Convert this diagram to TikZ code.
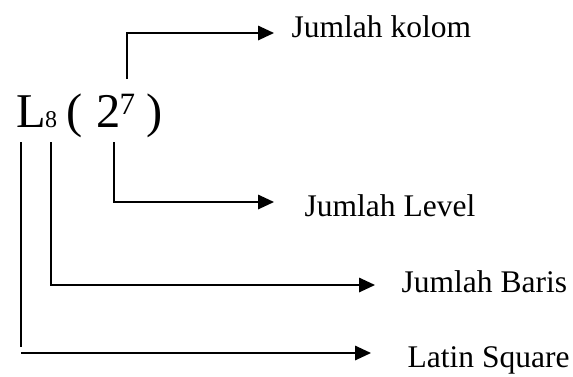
\documentclass[tikz,border=0pt]{standalone}
\usepackage{fontspec}
\setmainfont{Liberation Serif}
\usetikzlibrary{arrows.meta}
\begin{document}
\begin{tikzpicture}[x=1pt,y=-1pt,
  conn/.style={line width=1.7pt,-{Triangle[length=16pt,width=14.5pt]}},
  plain/.style={line width=1.5pt},
  lbl/.style={anchor=base west,inner sep=0pt,font=\fontsize{31.5}{36}\selectfont},
  fml/.style={anchor=base west,inner sep=0pt,font=\fontsize{48.5}{54}\selectfont},
  subf/.style={anchor=base west,inner sep=0pt,font=\fontsize{24}{28}\selectfont},
  supf/.style={anchor=base west,inner sep=0pt,font=\fontsize{31}{34}\selectfont}]
\useasboundingbox (0,0) rectangle (573,376);
% formula
\node[fml]  (L)     at (16,127)  {L};
\node[subf] (eight) at (45,127)  {8};
\node[fml]  (lp)    at (66,127)  {(};
\node[fml]  (two)   at (96,127)  {2};
\node[supf] (seven) at (119.5,114.5) {7};
\node[fml]  (rp)    at (146,127) {)};
% labels
\node[lbl] (kolom) at (291.5,37)  {Jumlah kolom};
\node[lbl] (level) at (304.5,216) {Jumlah Level};
\node[lbl] (baris) at (401.5,292) {Jumlah Baris};
\node[lbl] (latin) at (407.5,367) {Latin Square};
% connector coordinates
\coordinate (s1) at (127,79);
\coordinate (e1) at (274,33);
\coordinate (s2) at (114,142);
\coordinate (e2) at (274,202);
\coordinate (s3) at (51,142);
\coordinate (e3) at (375,285);
\coordinate (s4) at (21,142);
\coordinate (m4) at (21,347);
\coordinate (t4) at (21,353);
\coordinate (e4) at (371,353);
% connectors
\draw[conn] (s1) |- (e1);
\draw[conn] (s2) |- (e2);
\draw[conn] (s3) |- (e3);
\draw[plain] (s4) -- (m4);
\draw[conn] (t4) -- (e4);
\end{tikzpicture}
\end{document}
